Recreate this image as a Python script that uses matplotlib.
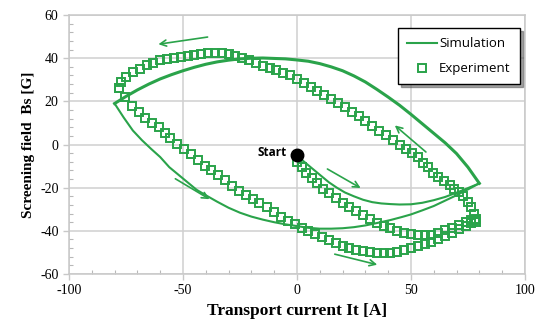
import matplotlib
matplotlib.use("Agg")
from matplotlib import pyplot as plt
from matplotlib.ticker import MultipleLocator

plt.rcParams["axes.unicode_minus"] = False

# simulation: virgin curve, descending branch, ascending branch
sim_virgin_x = [0, 2.6, 6, 10, 14, 17.5, 21, 25, 29, 33, 37, 41, 45, 50, 55, 60, 65, 70, 75, 80]
sim_virgin_y = [-5, -7.5, -10.5, -14, -17.5, -20, -22.2, -24, -25.6, -26.7, -27.3, -27.6, -27.8, -27.7, -27, -25.8, -24.3, -22.3, -20.2, -18]

sim_desc_x = [80, 75, 70, 65, 60, 55, 50, 45, 40, 35, 30, 25, 20, 15, 10, 5, 0, -5, -10, -15, -20, -25, -30, -35, -40, -45, -50, -55, -60, -65, -70, -75, -80]
sim_desc_y = [-18, -10.5, -4.2, 0.8, 5.2, 9.6, 14, 18.2, 22, 25.6, 29, 31.8, 34.2, 36, 37.5, 38.6, 39.2, 39.7, 39.9, 40.1, 40, 39.7, 39.1, 38.3, 37.2, 35.8, 34.2, 32.4, 30.4, 28, 25.3, 22.3, 19]

sim_asc_x = [-80, -76, -72, -68, -64, -60, -56, -52, -48, -44, -40, -35, -30, -25, -20, -15, -10, -5, 0, 5, 10, 15, 20, 25, 30, 35, 41, 46, 50, 55, 60, 65, 70, 75, 80]
sim_asc_y = [19, 12.5, 6.5, 2, -2, -5.8, -10.5, -14, -17.5, -21, -23.5, -26.5, -29.3, -31.6, -33.4, -34.8, -36, -37, -37.8, -38.6, -39, -39, -38.8, -38.3, -37.5, -36.4, -35, -33.6, -32.4, -30.5, -28.5, -26, -23.5, -20.8, -18]

# experiment
exp_virgin_x = [0, 2, 4, 6.5, 9, 11.5, 14, 17, 20, 23, 26, 29, 32, 35, 38, 41, 44, 47, 50, 53, 56, 59, 62, 65, 68, 71, 74, 76.5, 78.5]
exp_virgin_y = [-8, -10.5, -13, -15.5, -18, -20.5, -22.5, -24.8, -27, -29, -31, -32.8, -34.5, -36.2, -37.6, -38.8, -40, -40.8, -41.3, -41.8, -42, -41.8, -41, -39.8, -38.5, -37.3, -36, -35, -34.5]

exp_desc_x = [78, 77.5, 76.5, 75, 73, 71, 69, 67, 64.5, 62, 59.5, 57.5, 55.5, 53, 50.5, 48, 45, 42, 39, 36, 33, 30, 27, 24, 21, 18, 15, 12, 9, 6, 3, 0, -3, -6, -9, -12, -15, -18, -21, -24, -27, -30, -33, -36, -39, -42, -45, -48, -51, -54, -57, -60, -63, -66, -69, -72, -75, -77, -78]
exp_desc_y = [-35, -32, -29, -26.5, -24, -22, -20.5, -18.8, -17, -15, -13, -10.5, -8.5, -6, -3.8, -2, 0, 2, 4.2, 6.4, 8.6, 10.8, 13, 15.2, 17.4, 19.4, 21.2, 23, 24.8, 26.5, 28.3, 30.2, 32, 33.3, 34.4, 35.3, 36.3, 37.6, 39, 40.2, 41.1, 41.8, 42.3, 42.5, 42.3, 42, 41.4, 40.9, 40.5, 40.1, 39.6, 39, 38, 36.8, 35, 33.5, 31.3, 29, 26.2]

exp_asc_x = [-78, -75.5, -72.5, -69.5, -66.5, -63.5, -60.5, -58, -55.5, -52.5, -49.5, -46.5, -43.5, -40.5, -37.5, -34.5, -31.5, -28.5, -25.5, -22.5, -19.5, -16.5, -13, -10, -7, -4, -1, 2, 5, 8, 11, 14, 17, 20, 23, 26, 29, 32, 35, 38, 41, 44, 47, 50, 53, 56, 59, 62, 65, 68, 71, 74, 76.5, 78.5]
exp_asc_y = [26, 21.8, 18, 15, 12.5, 10, 8, 5.5, 2.8, 0.3, -2, -4.6, -7.3, -9.8, -12, -14.3, -16.6, -19, -21.5, -23.6, -25.3, -27, -29, -31.3, -33.4, -35.3, -37, -38.8, -40.2, -41.3, -42.8, -44.3, -45.6, -46.8, -47.8, -48.7, -49.5, -50, -50.3, -50.4, -50.3, -49.8, -49, -48, -47, -46, -45, -43.8, -42.5, -40.8, -39.2, -37.7, -36.5, -36]

start_x, start_y = 0, -5

# arrows (tail, head) showing sweep direction
arrows = [((-38, 50), (-62, 46.3)),
          ((57.5, -4.3), (42, 9.7)),
          ((12.3, -10.7), (29, -20.8)),
          ((-54.4, -15.2), (-37.3, -26)),
          ((15.4, -50.5), (36.4, -56))]

green = "#2aa34a"

fig = plt.figure(figsize=(5.37, 3.29), dpi=100)
ax = fig.add_axes([0.1285, 0.1672, 0.849, 0.787])

ax.plot(sim_virgin_x, sim_virgin_y, color=green, lw=1.5, label="Simulation")
ax.plot(sim_desc_x, sim_desc_y, color=green, lw=2.2)
ax.plot(sim_asc_x, sim_asc_y, color=green, lw=1.5)

sq = dict(ls="none", marker="s", ms=5.8, mfc="none", mec=green, mew=1.4)
ax.plot(exp_virgin_x, exp_virgin_y, label="Experiment", **sq)
ax.plot(exp_desc_x, exp_desc_y, **sq)
ax.plot(exp_asc_x, exp_asc_y, **sq)

for tail, head in arrows:
    ax.annotate("", xy=head, xytext=tail,
                arrowprops=dict(arrowstyle="->", color=green, lw=1.2, mutation_scale=11))

ax.plot(start_x, start_y, "o", color="black", ms=9, zorder=5)
ax.text(start_x - 4.5, start_y + 1.5, "Start", ha="right", va="center",
        fontsize=8.5, fontweight="bold", family="Open Sans")

ax.set_xlim(-100, 100)
ax.set_ylim(-60, 60)
ax.xaxis.set_major_locator(MultipleLocator(50))
ax.yaxis.set_major_locator(MultipleLocator(20))
ax.xaxis.set_minor_locator(MultipleLocator(10))
ax.yaxis.set_minor_locator(MultipleLocator(4))
ax.grid(True, which="major", color="#d0d0d0", lw=1.1)
ax.set_axisbelow(True)
ax.tick_params(which="major", direction="out", length=4, color="#c8c8c8", width=1)
ax.tick_params(which="minor", direction="in", length=3, color="#b8b8b8", width=0.8)
for s in ax.spines.values():
    s.set_color("#c8c8c8")
    s.set_linewidth(1.1)

for lab in ax.get_xticklabels() + ax.get_yticklabels():
    lab.set_family("Liberation Serif")
    lab.set_fontsize(10)

ax.set_xlabel("Transport current It [A]", family="Liberation Serif",
              fontweight="bold", fontsize=12.5, labelpad=4)
ax.set_ylabel("Screening field  Bs [G]", family="Liberation Serif",
              fontweight="bold", fontsize=11, labelpad=4)

leg = ax.legend(loc="upper right", bbox_to_anchor=(0.989, 0.95), borderaxespad=0,
                fancybox=False, shadow=True, edgecolor="black", framealpha=1,
                prop={"family": "Open Sans", "size": 9.5},
                handlelength=2.2, handletextpad=0.2, labelspacing=0.9,
                borderpad=0.7)
leg.get_frame().set_linewidth(1.0)

fig.savefig("out.png", dpi=100)
